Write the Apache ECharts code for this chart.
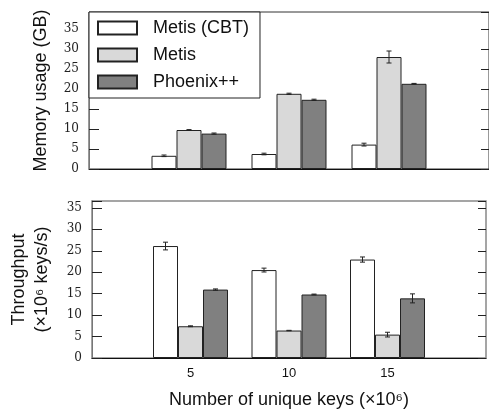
<!DOCTYPE html>
<html>
<head>
<meta charset="utf-8">
<script src="https://cdn.jsdelivr.net/npm/echarts@6/dist/echarts.min.js"></script>
<style>
  html, body { margin: 0; padding: 0; background: #fff; }
  #chart { width: 489px; height: 413px; }
</style>
</head>
<body>
<div id="chart"></div>
<script>
// x positions (unique keys, x10^6)
const keys = [5, 10, 15]
const seriesNames = ['Metis (CBT)', 'Metis', 'Phoenix++']
const barColors = ['#ffffff', '#d9d9d9', '#808080']

// memory usage (GB) and error half-widths
const memCBT = [3.3, 3.75, 6.1]
const memMetis = [9.75, 18.8, 28.0]
const memPhoenix = [8.85, 17.3, 21.3]
const memCBTErr = [0.2, 0.2, 0.35]
const memMetisErr = [0.1, 0.15, 1.5]
const memPhoenixErr = [0.15, 0.15, 0.1]

// throughput (x10^6 keys/s) and error half-widths
const thrCBT = [26.1, 20.5, 22.95]
const thrMetis = [7.4, 6.4, 5.45]
const thrPhoenix = [15.95, 14.8, 13.9]
const thrCBTErr = [0.9, 0.45, 0.6]
const thrMetisErr = [0.1, 0.05, 0.55]
const thrPhoenixErr = [0.15, 0.1, 1.05]

const yTicks = [0, 5, 10, 15, 20, 25, 30, 35]

const chart = echarts.init(document.getElementById('chart'))

const sans = 'Liberation Sans'
const serif = 'DejaVu Serif'

const barSeries = (name, i, values, xIdx, yIdx) => ({
  name,
  type: 'bar',
  xAxisIndex: xIdx,
  yAxisIndex: yIdx,
  barWidth: 25,
  barGap: '0%',
  data: keys.map((k, j) => [k, values[j]]),
  itemStyle: { color: barColors[i], borderColor: '#222', borderWidth: 1 },
  emphasis: { disabled: true },
  z: 2
})

const errSeries = (i, values, errs, xIdx, yIdx) => ({
  type: 'custom',
  xAxisIndex: xIdx,
  yAxisIndex: yIdx,
  z: 3,
  silent: true,
  data: keys.map((k, j) => [k, values[j] - errs[j], values[j] + errs[j]]),
  renderItem: (params, api) => {
    const lo = api.coord([api.value(0), api.value(1)])
    const hi = api.coord([api.value(0), api.value(2)])
    const cx = lo[0] + (i - 1) * 25
    const cap = 2.5
    const style = { stroke: '#222', lineWidth: 1 }
    return {
      type: 'group',
      children: [
        { type: 'line', shape: { x1: cx, y1: lo[1], x2: cx, y2: hi[1] }, style },
        { type: 'line', shape: { x1: cx - cap, y1: lo[1], x2: cx + cap, y2: lo[1] }, style },
        { type: 'line', shape: { x1: cx - cap, y1: hi[1], x2: cx + cap, y2: hi[1] }, style }
      ]
    }
  }
})

const yLeft = (gridIndex, max, name, nameGap) => ({
  type: 'value',
  gridIndex,
  position: 'left',
  min: 0,
  max,
  interval: 5,
  splitLine: { show: false },
  axisLine: { show: true, lineStyle: { color: '#777', width: 1 } },
  axisTick: { show: true, inside: true, length: 10, lineStyle: { color: '#222' } },
  axisLabel: {
    margin: 10,
    fontFamily: serif,
    fontSize: 12,
    color: '#222',
    formatter: v => (yTicks.includes(v) ? String(v) : '')
  },
  name,
  nameLocation: 'middle',
  nameGap,
  nameTextStyle: { fontFamily: sans, fontSize: 18, color: '#111', lineHeight: 23 }
})

const yRight = (gridIndex, max) => ({
  type: 'value',
  gridIndex,
  position: 'right',
  min: 0,
  max,
  interval: 5,
  splitLine: { show: false },
  axisLine: { show: false },
  axisTick: { show: true, inside: true, length: 8, lineStyle: { color: '#222' } },
  axisLabel: { show: false }
})

const xAxis = (gridIndex, showLabels) => ({
  type: 'value',
  gridIndex,
  min: 0,
  max: 20,
  interval: 5,
  splitLine: { show: false },
  axisLine: { show: true, lineStyle: { color: '#111', width: 1 } },
  axisTick: { show: false },
  axisLabel: {
    show: showLabels,
    margin: 9,
    fontFamily: sans,
    fontSize: 13,
    color: '#111',
    formatter: v => (keys.includes(v) ? String(v) : '')
  },
  name: showLabels ? 'Number of unique keys (×10⁶)' : '',
  nameLocation: 'middle',
  nameGap: 33,
  nameTextStyle: { fontFamily: sans, fontSize: 18, color: '#111' }
})

chart.setOption({
  animation: false,
  backgroundColor: '#fff',
  grid: [
    { left: 89, top: 12, width: 402, height: 157, show: true, borderColor: '#333', borderWidth: 1 },
    { left: 89, top: 201, width: 402, height: 157, show: true, borderColor: '#888', borderWidth: 1.5 }
  ],
  legend: {
    left: 89,
    top: 12,
    orient: 'vertical',
    backgroundColor: '#fff',
    borderColor: '#222',
    borderWidth: 1,
    borderRadius: 0,
    padding: [7, 11, 7, 8],
    icon: 'rect',
    itemWidth: 39,
    itemHeight: 13,
    itemGap: 9,
    data: seriesNames,
    selectedMode: false,
    textStyle: { fontFamily: sans, fontSize: 18, color: '#111', padding: [0, 0, 0, 11] },
    z: 10
  },
  xAxis: [xAxis(0, false), xAxis(1, true)],
  yAxis: [
    yLeft(0, 39.25, 'Memory usage (GB)', 34),
    yRight(0, 39.25),
    yLeft(1, 36.6, 'Throughput\n(×10⁶ keys/s)', 38),
    yRight(1, 36.6)
  ],
  series: [
    barSeries(seriesNames[0], 0, memCBT, 0, 0),
    barSeries(seriesNames[1], 1, memMetis, 0, 0),
    barSeries(seriesNames[2], 2, memPhoenix, 0, 0),
    errSeries(0, memCBT, memCBTErr, 0, 0),
    errSeries(1, memMetis, memMetisErr, 0, 0),
    errSeries(2, memPhoenix, memPhoenixErr, 0, 0),
    barSeries(seriesNames[0], 0, thrCBT, 1, 2),
    barSeries(seriesNames[1], 1, thrMetis, 1, 2),
    barSeries(seriesNames[2], 2, thrPhoenix, 1, 2),
    errSeries(0, thrCBT, thrCBTErr, 1, 2),
    errSeries(1, thrMetis, thrMetisErr, 1, 2),
    errSeries(2, thrPhoenix, thrPhoenixErr, 1, 2)
  ]
})
</script>
</body>
</html>
